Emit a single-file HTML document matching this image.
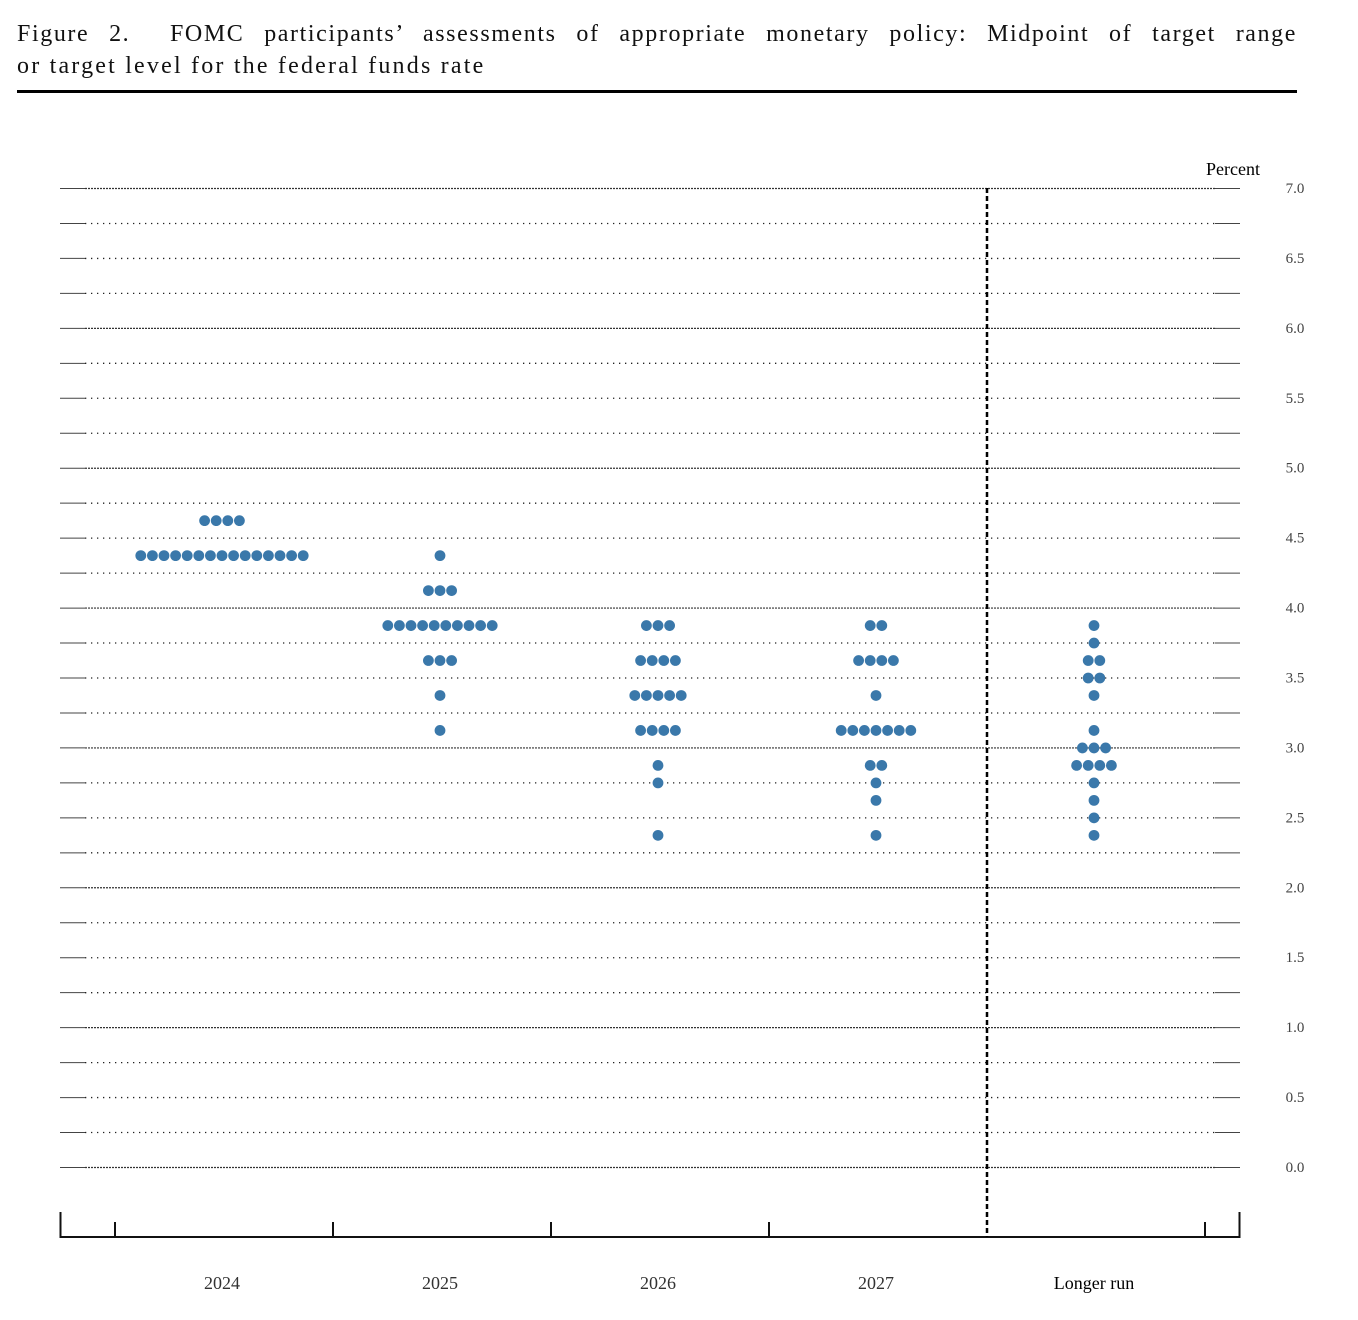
<!DOCTYPE html>
<html><head><meta charset="utf-8">
<style>
body{margin:0;background:#fff;width:1358px;height:1320px;overflow:hidden;font-family:"Liberation Serif",serif}
#t1,#t2{position:absolute;left:17px;width:1280px;font-size:24px;letter-spacing:2.2px;color:#111;white-space:nowrap}
#t1{top:21px;text-align:justify;text-align-last:justify;letter-spacing:1.6px}
#t2{top:53px}
#rule{position:absolute;left:17px;top:90px;width:1280px;height:3px;background:#000}
svg{position:absolute;left:0;top:0}
</style></head><body>
<div id="t1">Figure 2.&nbsp; FOMC participants’ assessments of appropriate monetary policy: Midpoint of target range</div>
<div id="t2">or target level for the federal funds rate</div>
<div id="rule"></div>
<svg id="chart" width="1358" height="1320"></svg>
<script>
const categories=["2024","2025","2026","2027","Longer run"];
const yTicks=[0,0.5,1,1.5,2,2.5,3,3.5,4,4.5,5,5.5,6,6.5,7];
const rates2024=[4.625,4.375];
const counts2024=[4,15];
const rates2025=[4.375,4.125,3.875,3.625,3.375,3.125];
const counts2025=[1,3,10,3,1,1];
const rates2026=[3.875,3.625,3.375,3.125,2.875,2.75,2.375];
const counts2026=[3,4,5,4,1,1,1];
const rates2027=[3.875,3.625,3.375,3.125,2.875,2.75,2.625,2.375];
const counts2027=[2,4,1,7,2,1,1,1];
const ratesLR=[3.875,3.75,3.625,3.5,3.375,3.125,3.0,2.875,2.75,2.625,2.5,2.375];
const countsLR=[1,1,2,2,1,1,3,4,1,1,1,1];

const svg=document.getElementById('chart');
const NS='http://www.w3.org/2000/svg';
const L=60,R=1240,Y0=1167,Y7=188;
const y=v=>Y0-(v/7)*(Y0-Y7);
const x=i=>224+i*218;
function mk(t,a){const e=document.createElementNS(NS,t);for(const k in a)e.setAttribute(k,a[k]);svg.appendChild(e);return e;}
for(let q=0;q<=28;q++){
  const v=q/4,yy=y(v)+0.5;
  const major=q%4===0;
  const g=mk('line',{x1:L+25,x2:R-25,y1:yy,y2:yy,stroke:major?'#333':'#222','stroke-width':major?1.2:1.3,'stroke-dasharray':major?'2 1':'1.3 4.7'});
  
  
  const a=mk('line',{x1:L,x2:L+25,y1:yy,y2:yy,stroke:'#444','stroke-width':1});
  
  
  const b=mk('line',{x1:R-25,x2:R,y1:yy,y2:yy,stroke:'#444','stroke-width':1});
  
  
}
yTicks.forEach(v=>{
  const t=mk('text',{x:1295,y:y(v)+5,'text-anchor':'middle','font-size':15,fill:'#444','font-family':'Liberation Serif, serif'});
  t.textContent=v.toFixed(1);
  
  
});
const pt=mk('text',{x:1260,y:175,'text-anchor':'end','font-size':18,fill:'#000','font-family':'Liberation Serif, serif'});
pt.textContent='Percent';


const ax=mk('path',{d:'M60.5 1212V1237H1239.5V1212',fill:'none',stroke:'#111','stroke-width':2});


for(let i=0;i<6;i++){
  const xx=115+i*218;
  if(i===4)continue;
  const tk=mk('line',{x1:xx,x2:xx,y1:1222,y2:1237,stroke:'#111','stroke-width':2});
  
  
}
const dv=mk('line',{x1:987,x2:987,y1:188,y2:1237,stroke:'#000','stroke-width':2.5,'stroke-dasharray':'5 3'});


categories.forEach((c,i)=>{
  const t=mk('text',{x:x(i)-2,y:1289,'text-anchor':'middle','font-size':18,fill:i===4?'#000':'#333','font-family':'Liberation Serif, serif'});
  t.textContent=c;
  
  
});
const series=[[rates2024,counts2024],[rates2025,counts2025],[rates2026,counts2026],[rates2027,counts2027],[ratesLR,countsLR]];
const sp=11.6;
series.forEach(([rs,cs],i)=>{
  rs.forEach((r,j)=>{
    const n=cs[j];
    for(let k=0;k<n;k++){
      const cx=x(i)-2+(k-(n-1)/2)*sp;
      const d=mk('circle',{cx:cx,cy:y(r)+0.5,r:5.4,fill:'#3a78aa'});
      
      
    }
  });
});
</script>
</body></html>
